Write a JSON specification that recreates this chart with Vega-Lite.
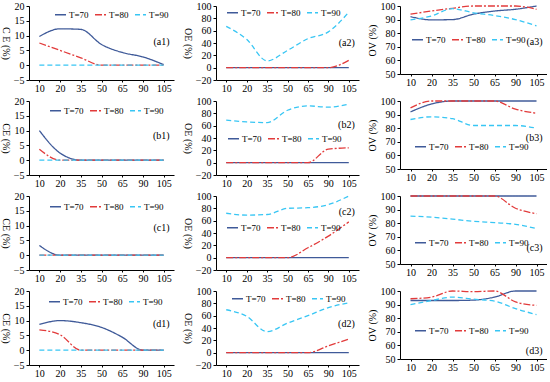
{
"$schema":"https://vega.github.io/schema/vega-lite/v6.json",
"padding":{"left":0,"top":1,"right":0,"bottom":0},
"background":"white",
"config":{"font":"Liberation Serif","view":{"stroke":null},
"axis":{"grid":false,"domainColor":"black","tickColor":"black","labelColor":"black","labelFont":"Liberation Serif","labelFontSize":10,"titleFont":"Liberation Serif","titleFontSize":10,"titleFontWeight":"normal","titleColor":"black","tickSize":3,"labelPadding":2,"titlePadding":3,"labelOverlap":false,"labelFlush":false},
"axisX":{"tickSize":2,"labelPadding":1},
"legend":{"labelFont":"Liberation Serif","labelFontSize":9,"labelColor":"black"}},
"data":{"name":"d"},
"datasets":{"d":[
{"p":"a1","T":"T=70","x":10,"v":9.7},{"p":"a1","T":"T=70","x":20,"v":12.3},{"p":"a1","T":"T=70","x":35,"v":12.1},{"p":"a1","T":"T=70","x":50,"v":7.0},{"p":"a1","T":"T=70","x":65,"v":4.3},{"p":"a1","T":"T=70","x":90,"v":2.8},{"p":"a1","T":"T=70","x":105,"v":0.2},
{"p":"a1","T":"T=80","x":10,"v":7.5},{"p":"a1","T":"T=80","x":20,"v":5},{"p":"a1","T":"T=80","x":35,"v":2.5},{"p":"a1","T":"T=80","x":50,"v":0},{"p":"a1","T":"T=80","x":65,"v":0},{"p":"a1","T":"T=80","x":90,"v":0},{"p":"a1","T":"T=80","x":105,"v":0},
{"p":"a1","T":"T=90","x":10,"v":0},{"p":"a1","T":"T=90","x":20,"v":0},{"p":"a1","T":"T=90","x":35,"v":0},{"p":"a1","T":"T=90","x":50,"v":0},{"p":"a1","T":"T=90","x":65,"v":0},{"p":"a1","T":"T=90","x":90,"v":0},{"p":"a1","T":"T=90","x":105,"v":0},
{"p":"a2","T":"T=70","x":10,"v":0},{"p":"a2","T":"T=70","x":20,"v":0},{"p":"a2","T":"T=70","x":35,"v":0},{"p":"a2","T":"T=70","x":50,"v":0},{"p":"a2","T":"T=70","x":65,"v":0},{"p":"a2","T":"T=70","x":90,"v":0},{"p":"a2","T":"T=70","x":105,"v":0},
{"p":"a2","T":"T=80","x":10,"v":0},{"p":"a2","T":"T=80","x":20,"v":0},{"p":"a2","T":"T=80","x":35,"v":0},{"p":"a2","T":"T=80","x":50,"v":0},{"p":"a2","T":"T=80","x":65,"v":0},{"p":"a2","T":"T=80","x":90,"v":0},{"p":"a2","T":"T=80","x":105,"v":12},
{"p":"a2","T":"T=90","x":10,"v":67},{"p":"a2","T":"T=90","x":20,"v":46},{"p":"a2","T":"T=90","x":35,"v":11},{"p":"a2","T":"T=90","x":50,"v":28},{"p":"a2","T":"T=90","x":65,"v":47},{"p":"a2","T":"T=90","x":90,"v":58},{"p":"a2","T":"T=90","x":105,"v":90},
{"p":"a3","T":"T=70","x":10,"v":92.2},{"p":"a3","T":"T=70","x":20,"v":89.8},{"p":"a3","T":"T=70","x":35,"v":90},{"p":"a3","T":"T=70","x":50,"v":94},{"p":"a3","T":"T=70","x":65,"v":96.3},{"p":"a3","T":"T=70","x":90,"v":97.6},{"p":"a3","T":"T=70","x":105,"v":100},
{"p":"a3","T":"T=80","x":10,"v":94},{"p":"a3","T":"T=80","x":20,"v":96.3},{"p":"a3","T":"T=80","x":35,"v":98.3},{"p":"a3","T":"T=80","x":50,"v":100},{"p":"a3","T":"T=80","x":65,"v":100},{"p":"a3","T":"T=80","x":90,"v":100},{"p":"a3","T":"T=80","x":105,"v":97.6},
{"p":"a3","T":"T=90","x":10,"v":89.8},{"p":"a3","T":"T=90","x":20,"v":92.7},{"p":"a3","T":"T=90","x":35,"v":98},{"p":"a3","T":"T=90","x":50,"v":95},{"p":"a3","T":"T=90","x":65,"v":93},{"p":"a3","T":"T=90","x":90,"v":90},{"p":"a3","T":"T=90","x":105,"v":85.4},
{"p":"b1","T":"T=70","x":10,"v":10},{"p":"b1","T":"T=70","x":20,"v":2.4},{"p":"b1","T":"T=70","x":35,"v":0},{"p":"b1","T":"T=70","x":50,"v":0},{"p":"b1","T":"T=70","x":65,"v":0},{"p":"b1","T":"T=70","x":90,"v":0},{"p":"b1","T":"T=70","x":105,"v":0},
{"p":"b1","T":"T=80","x":10,"v":3.7},{"p":"b1","T":"T=80","x":20,"v":0},{"p":"b1","T":"T=80","x":35,"v":0},{"p":"b1","T":"T=80","x":50,"v":0},{"p":"b1","T":"T=80","x":65,"v":0},{"p":"b1","T":"T=80","x":90,"v":0},{"p":"b1","T":"T=80","x":105,"v":0},
{"p":"b1","T":"T=90","x":10,"v":0},{"p":"b1","T":"T=90","x":20,"v":0},{"p":"b1","T":"T=90","x":35,"v":0},{"p":"b1","T":"T=90","x":50,"v":0},{"p":"b1","T":"T=90","x":65,"v":0},{"p":"b1","T":"T=90","x":90,"v":0},{"p":"b1","T":"T=90","x":105,"v":0},
{"p":"b2","T":"T=70","x":10,"v":0},{"p":"b2","T":"T=70","x":20,"v":0},{"p":"b2","T":"T=70","x":35,"v":0},{"p":"b2","T":"T=70","x":50,"v":0},{"p":"b2","T":"T=70","x":65,"v":0},{"p":"b2","T":"T=70","x":90,"v":0},{"p":"b2","T":"T=70","x":105,"v":0},
{"p":"b2","T":"T=80","x":10,"v":0},{"p":"b2","T":"T=80","x":20,"v":0},{"p":"b2","T":"T=80","x":35,"v":0},{"p":"b2","T":"T=80","x":50,"v":0},{"p":"b2","T":"T=80","x":65,"v":0},{"p":"b2","T":"T=80","x":90,"v":22},{"p":"b2","T":"T=80","x":105,"v":24},
{"p":"b2","T":"T=90","x":10,"v":69},{"p":"b2","T":"T=90","x":20,"v":66},{"p":"b2","T":"T=90","x":35,"v":65},{"p":"b2","T":"T=90","x":50,"v":85},{"p":"b2","T":"T=90","x":65,"v":92},{"p":"b2","T":"T=90","x":90,"v":90},{"p":"b2","T":"T=90","x":105,"v":95},
{"p":"b3","T":"T=70","x":10,"v":92},{"p":"b3","T":"T=70","x":20,"v":97.8},{"p":"b3","T":"T=70","x":35,"v":100},{"p":"b3","T":"T=70","x":50,"v":100},{"p":"b3","T":"T=70","x":65,"v":100},{"p":"b3","T":"T=70","x":90,"v":100},{"p":"b3","T":"T=70","x":105,"v":100},
{"p":"b3","T":"T=80","x":10,"v":95},{"p":"b3","T":"T=80","x":20,"v":100},{"p":"b3","T":"T=80","x":35,"v":100},{"p":"b3","T":"T=80","x":50,"v":100},{"p":"b3","T":"T=80","x":65,"v":100},{"p":"b3","T":"T=80","x":90,"v":94},{"p":"b3","T":"T=80","x":105,"v":91},
{"p":"b3","T":"T=90","x":10,"v":86.4},{"p":"b3","T":"T=90","x":20,"v":88.4},{"p":"b3","T":"T=90","x":35,"v":87},{"p":"b3","T":"T=90","x":50,"v":82},{"p":"b3","T":"T=90","x":65,"v":82},{"p":"b3","T":"T=90","x":90,"v":82},{"p":"b3","T":"T=90","x":105,"v":80},
{"p":"c1","T":"T=70","x":10,"v":3.3},{"p":"c1","T":"T=70","x":20,"v":0},{"p":"c1","T":"T=70","x":35,"v":0},{"p":"c1","T":"T=70","x":50,"v":0},{"p":"c1","T":"T=70","x":65,"v":0},{"p":"c1","T":"T=70","x":90,"v":0},{"p":"c1","T":"T=70","x":105,"v":0},
{"p":"c1","T":"T=80","x":10,"v":0},{"p":"c1","T":"T=80","x":20,"v":0},{"p":"c1","T":"T=80","x":35,"v":0},{"p":"c1","T":"T=80","x":50,"v":0},{"p":"c1","T":"T=80","x":65,"v":0},{"p":"c1","T":"T=80","x":90,"v":0},{"p":"c1","T":"T=80","x":105,"v":0},
{"p":"c1","T":"T=90","x":10,"v":0},{"p":"c1","T":"T=90","x":20,"v":0},{"p":"c1","T":"T=90","x":35,"v":0},{"p":"c1","T":"T=90","x":50,"v":0},{"p":"c1","T":"T=90","x":65,"v":0},{"p":"c1","T":"T=90","x":90,"v":0},{"p":"c1","T":"T=90","x":105,"v":0},
{"p":"c2","T":"T=70","x":10,"v":0},{"p":"c2","T":"T=70","x":20,"v":0},{"p":"c2","T":"T=70","x":35,"v":0},{"p":"c2","T":"T=70","x":50,"v":0},{"p":"c2","T":"T=70","x":65,"v":0},{"p":"c2","T":"T=70","x":90,"v":0},{"p":"c2","T":"T=70","x":105,"v":0},
{"p":"c2","T":"T=80","x":10,"v":0},{"p":"c2","T":"T=80","x":20,"v":0},{"p":"c2","T":"T=80","x":35,"v":0},{"p":"c2","T":"T=80","x":50,"v":0},{"p":"c2","T":"T=80","x":65,"v":16},{"p":"c2","T":"T=80","x":90,"v":35},{"p":"c2","T":"T=80","x":105,"v":58},
{"p":"c2","T":"T=90","x":10,"v":72},{"p":"c2","T":"T=90","x":20,"v":69},{"p":"c2","T":"T=90","x":35,"v":70},{"p":"c2","T":"T=90","x":50,"v":80},{"p":"c2","T":"T=90","x":65,"v":81},{"p":"c2","T":"T=90","x":90,"v":86},{"p":"c2","T":"T=90","x":105,"v":100},
{"p":"c3","T":"T=70","x":10,"v":100},{"p":"c3","T":"T=70","x":20,"v":100},{"p":"c3","T":"T=70","x":35,"v":100},{"p":"c3","T":"T=70","x":50,"v":100},{"p":"c3","T":"T=70","x":65,"v":100},{"p":"c3","T":"T=70","x":90,"v":100},{"p":"c3","T":"T=70","x":105,"v":100},
{"p":"c3","T":"T=80","x":10,"v":100},{"p":"c3","T":"T=80","x":20,"v":100},{"p":"c3","T":"T=80","x":35,"v":100},{"p":"c3","T":"T=80","x":50,"v":100},{"p":"c3","T":"T=80","x":65,"v":100},{"p":"c3","T":"T=80","x":90,"v":91},{"p":"c3","T":"T=80","x":105,"v":87},
{"p":"c3","T":"T=90","x":10,"v":85.2},{"p":"c3","T":"T=90","x":20,"v":84.4},{"p":"c3","T":"T=90","x":35,"v":83},{"p":"c3","T":"T=90","x":50,"v":81.4},{"p":"c3","T":"T=90","x":65,"v":80.4},{"p":"c3","T":"T=90","x":90,"v":79.2},{"p":"c3","T":"T=90","x":105,"v":76},
{"p":"d1","T":"T=70","x":10,"v":8.7},{"p":"d1","T":"T=70","x":20,"v":10},{"p":"d1","T":"T=70","x":35,"v":9.3},{"p":"d1","T":"T=70","x":50,"v":7.7},{"p":"d1","T":"T=70","x":65,"v":4.4},{"p":"d1","T":"T=70","x":90,"v":0},{"p":"d1","T":"T=70","x":105,"v":0},
{"p":"d1","T":"T=80","x":10,"v":6.9},{"p":"d1","T":"T=80","x":20,"v":5.2},{"p":"d1","T":"T=80","x":35,"v":0},{"p":"d1","T":"T=80","x":50,"v":0},{"p":"d1","T":"T=80","x":65,"v":0},{"p":"d1","T":"T=80","x":90,"v":0},{"p":"d1","T":"T=80","x":105,"v":0},
{"p":"d1","T":"T=90","x":10,"v":0},{"p":"d1","T":"T=90","x":20,"v":0},{"p":"d1","T":"T=90","x":35,"v":0},{"p":"d1","T":"T=90","x":50,"v":0},{"p":"d1","T":"T=90","x":65,"v":0},{"p":"d1","T":"T=90","x":90,"v":0},{"p":"d1","T":"T=90","x":105,"v":0},
{"p":"d2","T":"T=70","x":10,"v":0},{"p":"d2","T":"T=70","x":20,"v":0},{"p":"d2","T":"T=70","x":35,"v":0},{"p":"d2","T":"T=70","x":50,"v":0},{"p":"d2","T":"T=70","x":65,"v":0},{"p":"d2","T":"T=70","x":90,"v":0},{"p":"d2","T":"T=70","x":105,"v":0},
{"p":"d2","T":"T=80","x":10,"v":0},{"p":"d2","T":"T=80","x":20,"v":0},{"p":"d2","T":"T=80","x":35,"v":0},{"p":"d2","T":"T=80","x":50,"v":0},{"p":"d2","T":"T=80","x":65,"v":0},{"p":"d2","T":"T=80","x":90,"v":11},{"p":"d2","T":"T=80","x":105,"v":22},
{"p":"d2","T":"T=90","x":10,"v":69.6},{"p":"d2","T":"T=90","x":20,"v":59},{"p":"d2","T":"T=90","x":35,"v":34},{"p":"d2","T":"T=90","x":50,"v":48},{"p":"d2","T":"T=90","x":65,"v":60},{"p":"d2","T":"T=90","x":90,"v":73},{"p":"d2","T":"T=90","x":105,"v":81},
{"p":"d3","T":"T=70","x":10,"v":93},{"p":"d3","T":"T=70","x":20,"v":93},{"p":"d3","T":"T=70","x":35,"v":93},{"p":"d3","T":"T=70","x":50,"v":93.3},{"p":"d3","T":"T=70","x":65,"v":95.5},{"p":"d3","T":"T=70","x":90,"v":100},{"p":"d3","T":"T=70","x":105,"v":100},
{"p":"d3","T":"T=80","x":10,"v":94.3},{"p":"d3","T":"T=80","x":20,"v":95.5},{"p":"d3","T":"T=80","x":35,"v":100},{"p":"d3","T":"T=80","x":50,"v":99.5},{"p":"d3","T":"T=80","x":65,"v":100},{"p":"d3","T":"T=80","x":90,"v":92},{"p":"d3","T":"T=80","x":105,"v":89.4},
{"p":"d3","T":"T=90","x":10,"v":90},{"p":"d3","T":"T=90","x":20,"v":93},{"p":"d3","T":"T=90","x":35,"v":95.5},{"p":"d3","T":"T=90","x":50,"v":94},{"p":"d3","T":"T=90","x":65,"v":92.6},{"p":"d3","T":"T=90","x":90,"v":87},{"p":"d3","T":"T=90","x":105,"v":82.7}
]},
"spacing":3,
"resolve":{"scale":{"x":"independent","y":"independent","color":"independent","strokeDash":"independent"},"legend":{"color":"independent","strokeDash":"independent"}},
"vconcat":[
{"spacing":8,"resolve":{"scale":{"x":"independent","y":"independent","color":"independent","strokeDash":"independent"},"legend":{"color":"independent","strokeDash":"independent"}},
"hconcat":[
{"width":145,"height":74,"transform":[{"filter":"datum.p==='a1'"}],"layer":[
{"mark":{"type":"line","interpolate":"monotone","strokeWidth":1.3},"encoding":{
"x":{"field":"x","type":"ordinal","scale":{"type":"point","padding":0.5},"axis":{"labelAngle":0,"title":null}},
"y":{"field":"v","type":"quantitative","scale":{"domain":[-5,20],"nice":false},"axis":{"values":[-5,0,5,10,15,20],"title":"C E (%)","titleAngle":90,"titleBaseline":"top"}},
"color":{"field":"T","type":"nominal","scale":{"domain":["T=70","T=80","T=90"],"range":["#3F5A99","#E23B3B","#38C6F4"]},"legend":{"orient":"none","legendX":25,"legendY":2,"direction":"horizontal","title":null,"symbolSize":121,"symbolStrokeWidth":1.5,"columnPadding":3,"labelOffset":2,"padding":0}},
"strokeDash":{"field":"T","type":"nominal","scale":{"domain":["T=70","T=80","T=90"],"range":[[1,0],[7,2,2,2],[5,3]]},"legend":{"orient":"none","legendX":25,"legendY":2,"direction":"horizontal","title":null,"symbolSize":121,"symbolStrokeWidth":1.5,"columnPadding":3,"labelOffset":2,"padding":0}}}},
{"data":{"values":[{}]},"mark":{"type":"text","text":"(a1)","align":"right","dx":6,"fontSize":10,"font":"Liberation Serif"},"encoding":{"x":{"datum":105,"type":"ordinal","axis":{"labelAngle":0,"title":null}},"y":{"datum":7.7,"type":"quantitative","axis":{"values":[-5,0,5,10,15,20],"title":"C E (%)","titleAngle":90,"titleBaseline":"top"}}}}]},
{"width":143,"height":74,"transform":[{"filter":"datum.p==='a2'"}],"layer":[
{"mark":{"type":"line","interpolate":"monotone","strokeWidth":1.3},"encoding":{
"x":{"field":"x","type":"ordinal","scale":{"type":"point","padding":0.5},"axis":{"labelAngle":0,"title":null}},
"y":{"field":"v","type":"quantitative","scale":{"domain":[-20,100],"nice":false},"axis":{"values":[-20,0,20,40,60,80,100],"title":"OE (%)","titleAngle":90,"titleBaseline":"top"}},
"color":{"field":"T","type":"nominal","scale":{"domain":["T=70","T=80","T=90"],"range":["#3F5A99","#E23B3B","#38C6F4"]},"legend":{"orient":"none","legendX":10,"legendY":0,"direction":"horizontal","title":null,"symbolSize":121,"symbolStrokeWidth":1.5,"columnPadding":3,"labelOffset":2,"padding":0}},
"strokeDash":{"field":"T","type":"nominal","scale":{"domain":["T=70","T=80","T=90"],"range":[[1,0],[7,2,2,2],[5,3]]},"legend":{"orient":"none","legendX":10,"legendY":0,"direction":"horizontal","title":null,"symbolSize":121,"symbolStrokeWidth":1.5,"columnPadding":3,"labelOffset":2,"padding":0}}}},
{"data":{"values":[{}]},"mark":{"type":"text","text":"(a2)","align":"right","dx":6,"fontSize":10,"font":"Liberation Serif"},"encoding":{"x":{"datum":105,"type":"ordinal","axis":{"labelAngle":0,"title":null}},"y":{"datum":40,"type":"quantitative","axis":{"values":[-20,0,20,40,60,80,100],"title":"OE (%)","titleAngle":90,"titleBaseline":"top"}}}}]},
{"width":147,"height":68,"transform":[{"filter":"datum.p==='a3'"}],"layer":[
{"mark":{"type":"line","interpolate":"monotone","strokeWidth":1.3},"encoding":{
"x":{"field":"x","type":"ordinal","scale":{"type":"point","padding":0.5},"axis":{"labelAngle":0,"title":null}},
"y":{"field":"v","type":"quantitative","scale":{"domain":[50,100],"nice":false},"axis":{"values":[50,60,70,80,90,100],"title":"OV (%)","titleAngle":-90}},
"color":{"field":"T","type":"nominal","scale":{"domain":["T=70","T=80","T=90"],"range":["#3F5A99","#E23B3B","#38C6F4"]},"legend":{"orient":"none","legendX":11,"legendY":27,"direction":"horizontal","title":null,"symbolSize":121,"symbolStrokeWidth":1.5,"columnPadding":3,"labelOffset":2,"padding":0}},
"strokeDash":{"field":"T","type":"nominal","scale":{"domain":["T=70","T=80","T=90"],"range":[[1,0],[7,2,2,2],[5,3]]},"legend":{"orient":"none","legendX":11,"legendY":27,"direction":"horizontal","title":null,"symbolSize":121,"symbolStrokeWidth":1.5,"columnPadding":3,"labelOffset":2,"padding":0}}}},
{"data":{"values":[{}]},"mark":{"type":"text","text":"(a3)","align":"right","dx":6,"fontSize":10,"font":"Liberation Serif"},"encoding":{"x":{"datum":105,"type":"ordinal","axis":{"labelAngle":0,"title":null}},"y":{"datum":73.5,"type":"quantitative","axis":{"values":[50,60,70,80,90,100],"title":"OV (%)","titleAngle":-90}}}}]}
]},
{"spacing":8,"resolve":{"scale":{"x":"independent","y":"independent","color":"independent","strokeDash":"independent"},"legend":{"color":"independent","strokeDash":"independent"}},
"hconcat":[
{"width":145,"height":74,"transform":[{"filter":"datum.p==='b1'"}],"layer":[
{"mark":{"type":"line","interpolate":"monotone","strokeWidth":1.3},"encoding":{
"x":{"field":"x","type":"ordinal","scale":{"type":"point","padding":0.5},"axis":{"labelAngle":0,"title":null}},
"y":{"field":"v","type":"quantitative","scale":{"domain":[-5,20],"nice":false},"axis":{"values":[-5,0,5,10,15,20],"title":"CE (%)","titleAngle":90,"titleBaseline":"top"}},
"color":{"field":"T","type":"nominal","scale":{"domain":["T=70","T=80","T=90"],"range":["#3F5A99","#E23B3B","#38C6F4"]},"legend":{"orient":"none","legendX":20,"legendY":3,"direction":"horizontal","title":null,"symbolSize":121,"symbolStrokeWidth":1.5,"columnPadding":3,"labelOffset":2,"padding":0}},
"strokeDash":{"field":"T","type":"nominal","scale":{"domain":["T=70","T=80","T=90"],"range":[[1,0],[7,2,2,2],[5,3]]},"legend":{"orient":"none","legendX":20,"legendY":3,"direction":"horizontal","title":null,"symbolSize":121,"symbolStrokeWidth":1.5,"columnPadding":3,"labelOffset":2,"padding":0}}}},
{"data":{"values":[{}]},"mark":{"type":"text","text":"(b1)","align":"right","dx":6,"fontSize":10,"font":"Liberation Serif"},"encoding":{"x":{"datum":105,"type":"ordinal","axis":{"labelAngle":0,"title":null}},"y":{"datum":8.3,"type":"quantitative","axis":{"values":[-5,0,5,10,15,20],"title":"CE (%)","titleAngle":90,"titleBaseline":"top"}}}}]},
{"width":143,"height":74,"transform":[{"filter":"datum.p==='b2'"}],"layer":[
{"mark":{"type":"line","interpolate":"monotone","strokeWidth":1.3},"encoding":{
"x":{"field":"x","type":"ordinal","scale":{"type":"point","padding":0.5},"axis":{"labelAngle":0,"title":null}},
"y":{"field":"v","type":"quantitative","scale":{"domain":[-20,100],"nice":false},"axis":{"values":[-20,0,20,40,60,80,100],"title":"OE (%)","titleAngle":90,"titleBaseline":"top"}},
"color":{"field":"T","type":"nominal","scale":{"domain":["T=70","T=80","T=90"],"range":["#3F5A99","#E23B3B","#38C6F4"]},"legend":{"orient":"none","legendX":11,"legendY":31,"direction":"horizontal","title":null,"symbolSize":121,"symbolStrokeWidth":1.5,"columnPadding":3,"labelOffset":2,"padding":0}},
"strokeDash":{"field":"T","type":"nominal","scale":{"domain":["T=70","T=80","T=90"],"range":[[1,0],[7,2,2,2],[5,3]]},"legend":{"orient":"none","legendX":11,"legendY":31,"direction":"horizontal","title":null,"symbolSize":121,"symbolStrokeWidth":1.5,"columnPadding":3,"labelOffset":2,"padding":0}}}},
{"data":{"values":[{}]},"mark":{"type":"text","text":"(b2)","align":"right","dx":6,"fontSize":10,"font":"Liberation Serif"},"encoding":{"x":{"datum":105,"type":"ordinal","axis":{"labelAngle":0,"title":null}},"y":{"datum":61,"type":"quantitative","axis":{"values":[-20,0,20,40,60,80,100],"title":"OE (%)","titleAngle":90,"titleBaseline":"top"}}}}]},
{"width":147,"height":68,"transform":[{"filter":"datum.p==='b3'"}],"layer":[
{"mark":{"type":"line","interpolate":"monotone","strokeWidth":1.3},"encoding":{
"x":{"field":"x","type":"ordinal","scale":{"type":"point","padding":0.5},"axis":{"labelAngle":0,"title":null}},
"y":{"field":"v","type":"quantitative","scale":{"domain":[50,100],"nice":false},"axis":{"values":[50,60,70,80,90,100],"title":"OV (%)","titleAngle":-90}},
"color":{"field":"T","type":"nominal","scale":{"domain":["T=70","T=80","T=90"],"range":["#3F5A99","#E23B3B","#38C6F4"]},"legend":{"orient":"none","legendX":14,"legendY":39,"direction":"horizontal","title":null,"symbolSize":121,"symbolStrokeWidth":1.5,"columnPadding":3,"labelOffset":2,"padding":0}},
"strokeDash":{"field":"T","type":"nominal","scale":{"domain":["T=70","T=80","T=90"],"range":[[1,0],[7,2,2,2],[5,3]]},"legend":{"orient":"none","legendX":14,"legendY":39,"direction":"horizontal","title":null,"symbolSize":121,"symbolStrokeWidth":1.5,"columnPadding":3,"labelOffset":2,"padding":0}}}},
{"data":{"values":[{}]},"mark":{"type":"text","text":"(b3)","align":"right","dx":6,"fontSize":10,"font":"Liberation Serif"},"encoding":{"x":{"datum":105,"type":"ordinal","axis":{"labelAngle":0,"title":null}},"y":{"datum":72.8,"type":"quantitative","axis":{"values":[50,60,70,80,90,100],"title":"OV (%)","titleAngle":-90}}}}]}
]},
{"spacing":8,"resolve":{"scale":{"x":"independent","y":"independent","color":"independent","strokeDash":"independent"},"legend":{"color":"independent","strokeDash":"independent"}},
"hconcat":[
{"width":145,"height":74,"transform":[{"filter":"datum.p==='c1'"}],"layer":[
{"mark":{"type":"line","interpolate":"monotone","strokeWidth":1.3},"encoding":{
"x":{"field":"x","type":"ordinal","scale":{"type":"point","padding":0.5},"axis":{"labelAngle":0,"title":null}},
"y":{"field":"v","type":"quantitative","scale":{"domain":[-5,20],"nice":false},"axis":{"values":[-5,0,5,10,15,20],"title":"CE (%)","titleAngle":90,"titleBaseline":"top"}},
"color":{"field":"T","type":"nominal","scale":{"domain":["T=70","T=80","T=90"],"range":["#3F5A99","#E23B3B","#38C6F4"]},"legend":{"orient":"none","legendX":20,"legendY":4,"direction":"horizontal","title":null,"symbolSize":121,"symbolStrokeWidth":1.5,"columnPadding":3,"labelOffset":2,"padding":0}},
"strokeDash":{"field":"T","type":"nominal","scale":{"domain":["T=70","T=80","T=90"],"range":[[1,0],[7,2,2,2],[5,3]]},"legend":{"orient":"none","legendX":20,"legendY":4,"direction":"horizontal","title":null,"symbolSize":121,"symbolStrokeWidth":1.5,"columnPadding":3,"labelOffset":2,"padding":0}}}},
{"data":{"values":[{}]},"mark":{"type":"text","text":"(c1)","align":"right","dx":6,"fontSize":10,"font":"Liberation Serif"},"encoding":{"x":{"datum":105,"type":"ordinal","axis":{"labelAngle":0,"title":null}},"y":{"datum":9.3,"type":"quantitative","axis":{"values":[-5,0,5,10,15,20],"title":"CE (%)","titleAngle":90,"titleBaseline":"top"}}}}]},
{"width":143,"height":74,"transform":[{"filter":"datum.p==='c2'"}],"layer":[
{"mark":{"type":"line","interpolate":"monotone","strokeWidth":1.3},"encoding":{
"x":{"field":"x","type":"ordinal","scale":{"type":"point","padding":0.5},"axis":{"labelAngle":0,"title":null}},
"y":{"field":"v","type":"quantitative","scale":{"domain":[-20,100],"nice":false},"axis":{"values":[-20,0,20,40,60,80,100],"title":"OE (%)","titleAngle":90,"titleBaseline":"top"}},
"color":{"field":"T","type":"nominal","scale":{"domain":["T=70","T=80","T=90"],"range":["#3F5A99","#E23B3B","#38C6F4"]},"legend":{"orient":"none","legendX":10,"legendY":25,"direction":"horizontal","title":null,"symbolSize":121,"symbolStrokeWidth":1.5,"columnPadding":3,"labelOffset":2,"padding":0}},
"strokeDash":{"field":"T","type":"nominal","scale":{"domain":["T=70","T=80","T=90"],"range":[[1,0],[7,2,2,2],[5,3]]},"legend":{"orient":"none","legendX":10,"legendY":25,"direction":"horizontal","title":null,"symbolSize":121,"symbolStrokeWidth":1.5,"columnPadding":3,"labelOffset":2,"padding":0}}}},
{"data":{"values":[{}]},"mark":{"type":"text","text":"(c2)","align":"right","dx":6,"fontSize":10,"font":"Liberation Serif"},"encoding":{"x":{"datum":105,"type":"ordinal","axis":{"labelAngle":0,"title":null}},"y":{"datum":74,"type":"quantitative","axis":{"values":[-20,0,20,40,60,80,100],"title":"OE (%)","titleAngle":90,"titleBaseline":"top"}}}}]},
{"width":147,"height":68,"transform":[{"filter":"datum.p==='c3'"}],"layer":[
{"mark":{"type":"line","interpolate":"monotone","strokeWidth":1.3},"encoding":{
"x":{"field":"x","type":"ordinal","scale":{"type":"point","padding":0.5},"axis":{"labelAngle":0,"title":null}},
"y":{"field":"v","type":"quantitative","scale":{"domain":[50,100],"nice":false},"axis":{"values":[50,60,70,80,90,100],"title":"OV (%)","titleAngle":-90}},
"color":{"field":"T","type":"nominal","scale":{"domain":["T=70","T=80","T=90"],"range":["#3F5A99","#E23B3B","#38C6F4"]},"legend":{"orient":"none","legendX":14,"legendY":40,"direction":"horizontal","title":null,"symbolSize":121,"symbolStrokeWidth":1.5,"columnPadding":3,"labelOffset":2,"padding":0}},
"strokeDash":{"field":"T","type":"nominal","scale":{"domain":["T=70","T=80","T=90"],"range":[[1,0],[7,2,2,2],[5,3]]},"legend":{"orient":"none","legendX":14,"legendY":40,"direction":"horizontal","title":null,"symbolSize":121,"symbolStrokeWidth":1.5,"columnPadding":3,"labelOffset":2,"padding":0}}}},
{"data":{"values":[{}]},"mark":{"type":"text","text":"(c3)","align":"right","dx":6,"fontSize":10,"font":"Liberation Serif"},"encoding":{"x":{"datum":105,"type":"ordinal","axis":{"labelAngle":0,"title":null}},"y":{"datum":61.8,"type":"quantitative","axis":{"values":[50,60,70,80,90,100],"title":"OV (%)","titleAngle":-90}}}}]}
]},
{"spacing":8,"resolve":{"scale":{"x":"independent","y":"independent","color":"independent","strokeDash":"independent"},"legend":{"color":"independent","strokeDash":"independent"}},
"hconcat":[
{"width":145,"height":74,"transform":[{"filter":"datum.p==='d1'"}],"layer":[
{"mark":{"type":"line","interpolate":"monotone","strokeWidth":1.3},"encoding":{
"x":{"field":"x","type":"ordinal","scale":{"type":"point","padding":0.5},"axis":{"labelAngle":0,"title":null}},
"y":{"field":"v","type":"quantitative","scale":{"domain":[-5,20],"nice":false},"axis":{"values":[-5,0,5,10,15,20],"title":"CE (%)","titleAngle":90,"titleBaseline":"top"}},
"color":{"field":"T","type":"nominal","scale":{"domain":["T=70","T=80","T=90"],"range":["#3F5A99","#E23B3B","#38C6F4"]},"legend":{"orient":"none","legendX":19,"legendY":4,"direction":"horizontal","title":null,"symbolSize":121,"symbolStrokeWidth":1.5,"columnPadding":3,"labelOffset":2,"padding":0}},
"strokeDash":{"field":"T","type":"nominal","scale":{"domain":["T=70","T=80","T=90"],"range":[[1,0],[7,2,2,2],[5,3]]},"legend":{"orient":"none","legendX":19,"legendY":4,"direction":"horizontal","title":null,"symbolSize":121,"symbolStrokeWidth":1.5,"columnPadding":3,"labelOffset":2,"padding":0}}}},
{"data":{"values":[{}]},"mark":{"type":"text","text":"(d1)","align":"right","dx":6,"fontSize":10,"font":"Liberation Serif"},"encoding":{"x":{"datum":105,"type":"ordinal","axis":{"labelAngle":0,"title":null}},"y":{"datum":9,"type":"quantitative","axis":{"values":[-5,0,5,10,15,20],"title":"CE (%)","titleAngle":90,"titleBaseline":"top"}}}}]},
{"width":143,"height":74,"transform":[{"filter":"datum.p==='d2'"}],"layer":[
{"mark":{"type":"line","interpolate":"monotone","strokeWidth":1.3},"encoding":{
"x":{"field":"x","type":"ordinal","scale":{"type":"point","padding":0.5},"axis":{"labelAngle":0,"title":null}},
"y":{"field":"v","type":"quantitative","scale":{"domain":[-20,100],"nice":false},"axis":{"values":[-20,0,20,40,60,80,100],"title":"OE (%)","titleAngle":90,"titleBaseline":"top"}},
"color":{"field":"T","type":"nominal","scale":{"domain":["T=70","T=80","T=90"],"range":["#3F5A99","#E23B3B","#38C6F4"]},"legend":{"orient":"none","legendX":15,"legendY":1,"direction":"horizontal","title":null,"symbolSize":121,"symbolStrokeWidth":1.5,"columnPadding":3,"labelOffset":2,"padding":0}},
"strokeDash":{"field":"T","type":"nominal","scale":{"domain":["T=70","T=80","T=90"],"range":[[1,0],[7,2,2,2],[5,3]]},"legend":{"orient":"none","legendX":15,"legendY":1,"direction":"horizontal","title":null,"symbolSize":121,"symbolStrokeWidth":1.5,"columnPadding":3,"labelOffset":2,"padding":0}}}},
{"data":{"values":[{}]},"mark":{"type":"text","text":"(d2)","align":"right","dx":6,"fontSize":10,"font":"Liberation Serif"},"encoding":{"x":{"datum":105,"type":"ordinal","axis":{"labelAngle":0,"title":null}},"y":{"datum":46.5,"type":"quantitative","axis":{"values":[-20,0,20,40,60,80,100],"title":"OE (%)","titleAngle":90,"titleBaseline":"top"}}}}]},
{"width":147,"height":68,"transform":[{"filter":"datum.p==='d3'"}],"layer":[
{"mark":{"type":"line","interpolate":"monotone","strokeWidth":1.3},"encoding":{
"x":{"field":"x","type":"ordinal","scale":{"type":"point","padding":0.5},"axis":{"labelAngle":0,"title":null}},
"y":{"field":"v","type":"quantitative","scale":{"domain":[50,100],"nice":false},"axis":{"values":[50,60,70,80,90,100],"title":"OV (%)","titleAngle":-90}},
"color":{"field":"T","type":"nominal","scale":{"domain":["T=70","T=80","T=90"],"range":["#3F5A99","#E23B3B","#38C6F4"]},"legend":{"orient":"none","legendX":14,"legendY":33,"direction":"horizontal","title":null,"symbolSize":121,"symbolStrokeWidth":1.5,"columnPadding":3,"labelOffset":2,"padding":0}},
"strokeDash":{"field":"T","type":"nominal","scale":{"domain":["T=70","T=80","T=90"],"range":[[1,0],[7,2,2,2],[5,3]]},"legend":{"orient":"none","legendX":14,"legendY":33,"direction":"horizontal","title":null,"symbolSize":121,"symbolStrokeWidth":1.5,"columnPadding":3,"labelOffset":2,"padding":0}}}},
{"data":{"values":[{}]},"mark":{"type":"text","text":"(d3)","align":"right","dx":6,"fontSize":10,"font":"Liberation Serif"},"encoding":{"x":{"datum":105,"type":"ordinal","axis":{"labelAngle":0,"title":null}},"y":{"datum":56,"type":"quantitative","axis":{"values":[50,60,70,80,90,100],"title":"OV (%)","titleAngle":-90}}}}]}
]}
]
}
